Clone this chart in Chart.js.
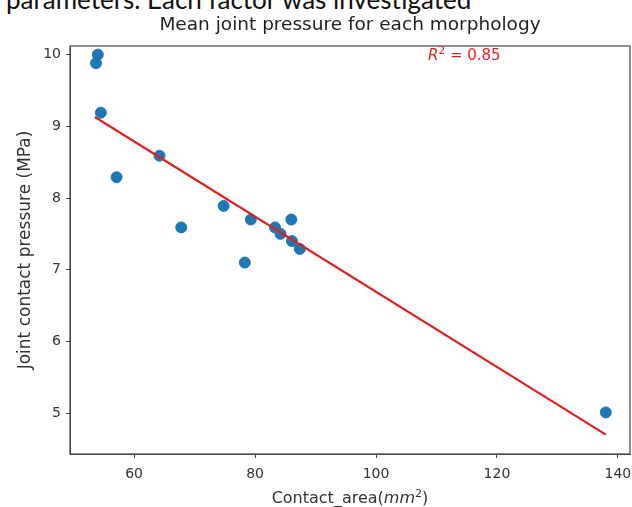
<!DOCTYPE html>
<html>
<head>
<meta charset="utf-8">
<script src="https://cdn.jsdelivr.net/npm/chart.js@4"></script>
<style>
  html, body { margin: 0; padding: 0; background: #fff; }
  #wrap { position: relative; width: 632px; height: 507px; overflow: hidden; }
  #cut { position: absolute; left: 6px; top: -17px; font: 26px Lato, "Open Sans", sans-serif; color: #111; white-space: nowrap; }
  canvas { position: absolute; left: 0; top: 0; }
</style>
</head>
<body>
<div id="wrap">
  <div id="cut">parameters. Each factor was investigated</div>
  <canvas id="grafico" width="632" height="507"></canvas>
</div>
<script>
// dados
const areaContato = [53.7, 54.0, 54.5, 57.1, 64.2, 67.8, 74.8, 78.3, 79.3, 83.3, 84.2, 86.0, 86.1, 87.4, 138.0];
const pressaoJunta = [9.88, 10.0, 9.19, 8.29, 8.59, 7.59, 7.89, 7.10, 7.70, 7.59, 7.50, 7.70, 7.40, 7.29, 5.01];

// reta de regressao (extremos)
const retaX = [53.5, 138.0];
const retaY = [9.13, 4.70];

const ticksX = [60, 80, 100, 120, 140];
const ticksY = [5, 6, 7, 8, 9, 10];
const titulo = "Mean joint pressure for each morphology";
const valorR2 = "0.85";

const corTexto = "#333";
const fonte = "'DejaVu Sans', sans-serif";

// escreve pedacos de texto em sequencia (normal / italico / expoente)
function escrever(ctx, partes, x, y, tam, alinhar) {
  const fontes = partes.map((p) =>
    p.sup ? `${tam * 0.7}px ${fonte}` : `${p.it ? "italic " : ""}${tam}px ${fonte}`
  );
  let larg = 0;
  partes.forEach((p, i) => { ctx.font = fontes[i]; larg += ctx.measureText(p.t).width; });
  let cx = alinhar === "center" ? x - larg / 2 : x;
  ctx.textAlign = "left";
  ctx.textBaseline = "alphabetic";
  partes.forEach((p, i) => {
    ctx.font = fontes[i];
    ctx.fillText(p.t, cx, p.sup ? y - tam * 0.4 : y);
    cx += ctx.measureText(p.t).width;
  });
}

// moldura completa, titulo, rotulo do eixo x e texto do R2
const moldura = {
  id: "moldura",
  afterDraw(chart) {
    const { ctx, chartArea: a, scales } = chart;
    const meio = (a.left + a.right) / 2;
    ctx.save();
    ctx.strokeStyle = "#444";
    ctx.lineWidth = 1.2;
    ctx.strokeRect(a.left, a.top, a.right - a.left, a.bottom - a.top);

    ctx.fillStyle = "#222";
    escrever(ctx, [{ t: titulo }], meio, 30, 18.5, "center");

    ctx.fillStyle = corTexto;
    escrever(ctx, [
      { t: "Contact_area(" }, { t: "mm", it: true }, { t: "2", sup: true }, { t: ")" }
    ], meio, 503, 16, "center");

    ctx.fillStyle = "#e02424";
    escrever(ctx, [
      { t: "R", it: true }, { t: "2", sup: true }, { t: " = " + valorR2 }
    ], scales.x.getPixelForValue(108.6), scales.y.getPixelForValue(9.92), 15, "left");
    ctx.restore();
  }
};

const semPadding = (s) => { s.paddingLeft = 0; s.paddingRight = 0; };

new Chart(document.getElementById("grafico"), {
  type: "scatter",
  data: {
    datasets: [
      {
        label: "pontos",
        data: areaContato.map((x, i) => ({ x, y: pressaoJunta[i] })),
        backgroundColor: "#1f77b4",
        borderColor: "#1f77b4",
        pointRadius: 5.5,
        order: 1
      },
      {
        label: "reta",
        data: retaX.map((x, i) => ({ x, y: retaY[i] })),
        showLine: true,
        borderColor: "#e31e1e",
        borderWidth: 2.2,
        pointRadius: 0,
        order: 0
      }
    ]
  },
  plugins: [moldura],
  options: {
    responsive: false,
    animation: false,
    layout: { autoPadding: false, padding: { top: 46, right: 2, left: 0, bottom: 0 } },
    plugins: {
      legend: { display: false },
      tooltip: { enabled: false },
      title: { display: false }
    },
    scales: {
      x: {
        min: 49.4,
        max: 142,
        afterBuildTicks: (s) => { s.ticks = ticksX.map((v) => ({ value: v })); },
        afterFit: (s) => { s.height = 53; semPadding(s); },
        afterUpdate: semPadding,
        grid: { drawOnChartArea: false, drawTicks: true, tickLength: 4, color: "#444" },
        border: { color: "#444" },
        ticks: { color: corTexto, font: { family: fonte, size: 14 }, padding: 8, maxRotation: 0 }
      },
      y: {
        min: 4.43,
        max: 10.12,
        afterBuildTicks: (s) => { s.ticks = ticksY.map((v) => ({ value: v })); },
        afterFit: (s) => { s.width = 70; },
        grid: { drawOnChartArea: false, drawTicks: true, tickLength: 4, color: "#444" },
        border: { color: "#444" },
        ticks: { color: corTexto, font: { family: fonte, size: 14 }, padding: 5 },
        title: {
          display: true,
          text: "Joint contact pressure (MPa)",
          color: corTexto,
          font: { family: fonte, size: 17 },
          padding: { top: 15, bottom: 4 }
        }
      }
    }
  }
});
</script>
</body>
</html>
